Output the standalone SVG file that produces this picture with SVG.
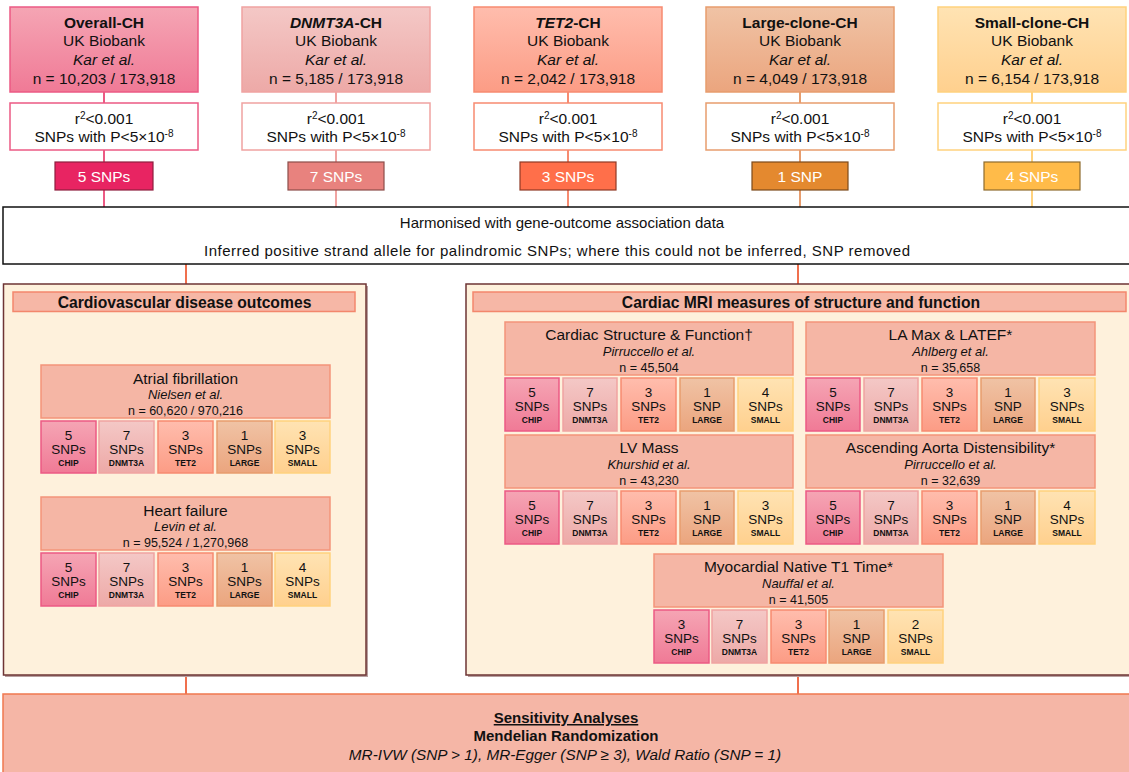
<svg xmlns="http://www.w3.org/2000/svg" width="1129" height="772" viewBox="0 0 1129 772">
<defs>
<linearGradient id="gChip" x1="0" y1="0" x2="0" y2="1"><stop offset="0" stop-color="#F5A5B4"/><stop offset="1" stop-color="#F07A96"/></linearGradient>
<linearGradient id="gDnmt" x1="0" y1="0" x2="0" y2="1"><stop offset="0" stop-color="#F4C8C6"/><stop offset="1" stop-color="#EDA9A7"/></linearGradient>
<linearGradient id="gTet" x1="0" y1="0" x2="0" y2="1"><stop offset="0" stop-color="#FFBDAD"/><stop offset="1" stop-color="#FC9C85"/></linearGradient>
<linearGradient id="gLarge" x1="0" y1="0" x2="0" y2="1"><stop offset="0" stop-color="#F0C3A5"/><stop offset="1" stop-color="#EBA57E"/></linearGradient>
<linearGradient id="gSmall" x1="0" y1="0" x2="0" y2="1"><stop offset="0" stop-color="#FFE3B3"/><stop offset="1" stop-color="#FFD08E"/></linearGradient>
</defs>
<style>
text{font-family:"Liberation Sans",Arial,sans-serif;fill:#111;text-anchor:middle}
.t15{font-size:15.5px}
.b{font-weight:bold}
.i{font-style:italic}
.chip{fill:url(#gChip);stroke:#EC5A84;stroke-width:1.5}
.dnmt{fill:url(#gDnmt);stroke:#F0A3A1;stroke-width:1.5}
.tet{fill:url(#gTet);stroke:#F78B70;stroke-width:1.5}
.large{fill:url(#gLarge);stroke:#E79D6E;stroke-width:1.5}
.small{fill:url(#gSmall);stroke:#FFD27E;stroke-width:1.5}
.wchip{fill:#fff;stroke:#EC5A84;stroke-width:1.5}
.wdnmt{fill:#fff;stroke:#F0A3A1;stroke-width:1.5}
.wtet{fill:#fff;stroke:#F78B70;stroke-width:1.5}
.wlarge{fill:#fff;stroke:#E79D6E;stroke-width:1.5}
.wsmall{fill:#fff;stroke:#FFD27E;stroke-width:1.5}
.nchip{fill:#E82462;stroke:#8E1F3F;stroke-width:1.2}
.ndnmt{fill:#E8827E;stroke:#8C4D4A;stroke-width:1.2}
.ntet{fill:#FF6F4A;stroke:#8F3A26;stroke-width:1.2}
.nlarge{fill:#E4892F;stroke:#7C4A1C;stroke-width:1.2}
.nsmall{fill:#FFBB49;stroke:#8E6B2E;stroke-width:1.2}
.snpt{fill:#fff;font-size:15.5px}
.panel{fill:#FEF1DC;stroke:#6E3434;stroke-width:1.5}
.shadow{fill:#B8A0A0}
.hdr{fill:#F6B7A6;stroke:#F3876C;stroke-width:1.5}
.hdt{font-size:15.7px;font-weight:bold}
.study{fill:#F5B6A5;stroke:#F3947A;stroke-width:1.5}
.st{font-size:15.5px}
.sa{font-size:13px;font-style:italic}
.sn{font-size:12.5px}
.num{font-size:13.5px}
.lab{font-size:8.5px;font-weight:bold}
.conn line{stroke-width:2}
</style>

<g id="connectors" class="conn">
<line x1="104" y1="92" x2="104" y2="207" stroke="#EC5A84"/>
<line x1="336" y1="92" x2="336" y2="207" stroke="#F0A3A1"/>
<line x1="568" y1="92" x2="568" y2="207" stroke="#F78B70"/>
<line x1="800" y1="92" x2="800" y2="207" stroke="#E79D6E"/>
<line x1="1032" y1="92" x2="1032" y2="207" stroke="#FFD27E"/>
<line x1="186" y1="264" x2="186" y2="284" stroke="#F0704E"/>
<line x1="798" y1="264" x2="798" y2="284" stroke="#F0704E"/>
<line x1="186" y1="675" x2="186" y2="694" stroke="#F0704E"/>
<line x1="798" y1="675" x2="798" y2="694" stroke="#F0704E"/>
</g>

<g id="src-overall">
<rect class="chip" x="10" y="7" width="188" height="85"/>
<text class="t15 b" x="104" y="27.5">Overall-CH</text>
<text class="t15" x="104" y="46">UK Biobank</text>
<text class="t15 i" x="104" y="65">Kar et al.</text>
<text class="t15" x="104" y="84">n = 10,203 / 173,918</text>
<rect class="wchip" x="10" y="103" width="188" height="47"/>
<text class="t15" x="104" y="123.5">r<tspan font-size="10" baseline-shift="super">2</tspan>&lt;0.001</text>
<text class="t15" x="104" y="141.5">SNPs with P&lt;5×10<tspan font-size="10" baseline-shift="super">-8</tspan></text>
<rect class="nchip" x="55" y="162" width="98" height="28"/>
<text class="snpt" x="104" y="182">5 SNPs</text>
</g>

<g id="src-dnmt3a">
<rect class="dnmt" x="242" y="7" width="188" height="85"/>
<text class="t15 b" x="336" y="27.5"><tspan class="i">DNMT3A</tspan>-CH</text>
<text class="t15" x="336" y="46">UK Biobank</text>
<text class="t15 i" x="336" y="65">Kar et al.</text>
<text class="t15" x="336" y="84">n = 5,185 / 173,918</text>
<rect class="wdnmt" x="242" y="103" width="188" height="47"/>
<text class="t15" x="336" y="123.5">r<tspan font-size="10" baseline-shift="super">2</tspan>&lt;0.001</text>
<text class="t15" x="336" y="141.5">SNPs with P&lt;5×10<tspan font-size="10" baseline-shift="super">-8</tspan></text>
<rect class="ndnmt" x="288" y="162" width="96" height="28"/>
<text class="snpt" x="336" y="182">7 SNPs</text>
</g>

<g id="src-tet2">
<rect class="tet" x="474" y="7" width="188" height="85"/>
<text class="t15 b" x="568" y="27.5"><tspan class="i">TET2</tspan>-CH</text>
<text class="t15" x="568" y="46">UK Biobank</text>
<text class="t15 i" x="568" y="65">Kar et al.</text>
<text class="t15" x="568" y="84">n = 2,042 / 173,918</text>
<rect class="wtet" x="474" y="103" width="188" height="47"/>
<text class="t15" x="568" y="123.5">r<tspan font-size="10" baseline-shift="super">2</tspan>&lt;0.001</text>
<text class="t15" x="568" y="141.5">SNPs with P&lt;5×10<tspan font-size="10" baseline-shift="super">-8</tspan></text>
<rect class="ntet" x="520" y="162" width="96" height="28"/>
<text class="snpt" x="568" y="182">3 SNPs</text>
</g>

<g id="src-large">
<rect class="large" x="706" y="7" width="188" height="85"/>
<text class="t15 b" x="800" y="27.5">Large-clone-CH</text>
<text class="t15" x="800" y="46">UK Biobank</text>
<text class="t15 i" x="800" y="65">Kar et al.</text>
<text class="t15" x="800" y="84">n = 4,049 / 173,918</text>
<rect class="wlarge" x="706" y="103" width="188" height="47"/>
<text class="t15" x="800" y="123.5">r<tspan font-size="10" baseline-shift="super">2</tspan>&lt;0.001</text>
<text class="t15" x="800" y="141.5">SNPs with P&lt;5×10<tspan font-size="10" baseline-shift="super">-8</tspan></text>
<rect class="nlarge" x="752" y="162" width="96" height="28"/>
<text class="snpt" x="800" y="182">1 SNP</text>
</g>

<g id="src-small">
<rect class="small" x="938" y="7" width="188" height="85"/>
<text class="t15 b" x="1032" y="27.5">Small-clone-CH</text>
<text class="t15" x="1032" y="46">UK Biobank</text>
<text class="t15 i" x="1032" y="65">Kar et al.</text>
<text class="t15" x="1032" y="84">n = 6,154 / 173,918</text>
<rect class="wsmall" x="938" y="103" width="188" height="47"/>
<text class="t15" x="1032" y="123.5">r<tspan font-size="10" baseline-shift="super">2</tspan>&lt;0.001</text>
<text class="t15" x="1032" y="141.5">SNPs with P&lt;5×10<tspan font-size="10" baseline-shift="super">-8</tspan></text>
<rect class="nsmall" x="984" y="162" width="96" height="28"/>
<text class="snpt" x="1032" y="182">4 SNPs</text>
</g>

<g id="harmonise">
<rect x="3" y="207" width="1135" height="57" fill="#fff" stroke="#111" stroke-width="1.5"/>
<text x="562" y="227.5" font-size="15px">Harmonised with gene-outcome association data</text>
<text x="557" y="255.5" font-size="15px" textLength="706" lengthAdjust="spacing">Inferred positive strand allele for palindromic SNPs; where this could not be inferred, SNP removed</text>
</g>

<g id="panel-cvd">
<rect class="shadow" x="5" y="286" width="363" height="391"/>
<rect class="panel" x="3.5" y="284" width="362.5" height="391"/>
<rect class="hdr" x="13" y="292" width="342" height="19.5"/>
<text class="hdt" x="184.5" y="307.5">Cardiovascular disease outcomes</text>
</g>

<g id="panel-mri">
<rect class="shadow" x="468" y="286" width="680" height="391"/>
<rect class="panel" x="466" y="284" width="680" height="391"/>
<rect class="hdr" x="473" y="292" width="653" height="19.5"/>
<text class="hdt" x="801" y="307.5">Cardiac MRI measures of structure and function</text>
</g>

<g id="af">
<rect class="study" x="41" y="365" width="289" height="53"/>
<text class="st" x="185.5" y="383.5">Atrial fibrillation</text>
<text class="sa" x="185.5" y="399">Nielsen et al.</text>
<text class="sn" x="185.5" y="414.5">n = 60,620 / 970,216</text>
<rect class="chip" x="41" y="421" width="55" height="52"/><text class="num" x="68.5" y="440">5</text><text class="num" x="68.5" y="454">SNPs</text><text class="lab" x="68.5" y="465.5">CHIP</text>
<rect class="dnmt" x="99" y="421" width="55" height="52"/><text class="num" x="126.5" y="440">7</text><text class="num" x="126.5" y="454">SNPs</text><text class="lab" x="126.5" y="465.5">DNMT3A</text>
<rect class="tet" x="158" y="421" width="55" height="52"/><text class="num" x="185.5" y="440">3</text><text class="num" x="185.5" y="454">SNPs</text><text class="lab" x="185.5" y="465.5">TET2</text>
<rect class="large" x="217" y="421" width="55" height="52"/><text class="num" x="244.5" y="440">1</text><text class="num" x="244.5" y="454">SNPs</text><text class="lab" x="244.5" y="465.5">LARGE</text>
<rect class="small" x="275" y="421" width="55" height="52"/><text class="num" x="302.5" y="440">3</text><text class="num" x="302.5" y="454">SNPs</text><text class="lab" x="302.5" y="465.5">SMALL</text>
</g>

<g id="hf">
<rect class="study" x="41" y="497" width="289" height="53"/>
<text class="st" x="185.5" y="515.5">Heart failure</text>
<text class="sa" x="185.5" y="531">Levin et al.</text>
<text class="sn" x="185.5" y="546.5">n = 95,524 / 1,270,968</text>
<rect class="chip" x="41" y="553" width="55" height="53"/><text class="num" x="68.5" y="572">5</text><text class="num" x="68.5" y="586">SNPs</text><text class="lab" x="68.5" y="597.5">CHIP</text>
<rect class="dnmt" x="99" y="553" width="55" height="53"/><text class="num" x="126.5" y="572">7</text><text class="num" x="126.5" y="586">SNPs</text><text class="lab" x="126.5" y="597.5">DNMT3A</text>
<rect class="tet" x="158" y="553" width="55" height="53"/><text class="num" x="185.5" y="572">3</text><text class="num" x="185.5" y="586">SNPs</text><text class="lab" x="185.5" y="597.5">TET2</text>
<rect class="large" x="217" y="553" width="55" height="53"/><text class="num" x="244.5" y="572">1</text><text class="num" x="244.5" y="586">SNPs</text><text class="lab" x="244.5" y="597.5">LARGE</text>
<rect class="small" x="275" y="553" width="55" height="53"/><text class="num" x="302.5" y="572">4</text><text class="num" x="302.5" y="586">SNPs</text><text class="lab" x="302.5" y="597.5">SMALL</text>
</g>

<g id="csf">
<rect class="study" x="505" y="322" width="288" height="53"/>
<text class="st" x="649" y="340">Cardiac Structure &amp; Function†</text>
<text class="sa" x="649" y="356">Pirruccello et al.</text>
<text class="sn" x="649" y="371.5">n = 45,504</text>
<rect class="chip" x="505" y="378" width="54" height="53"/><text class="num" x="532" y="397">5</text><text class="num" x="532" y="411">SNPs</text><text class="lab" x="532" y="422.5">CHIP</text>
<rect class="dnmt" x="563" y="378" width="54" height="53"/><text class="num" x="590" y="397">7</text><text class="num" x="590" y="411">SNPs</text><text class="lab" x="590" y="422.5">DNMT3A</text>
<rect class="tet" x="621" y="378" width="55" height="53"/><text class="num" x="648.5" y="397">3</text><text class="num" x="648.5" y="411">SNPs</text><text class="lab" x="648.5" y="422.5">TET2</text>
<rect class="large" x="680" y="378" width="54" height="53"/><text class="num" x="707" y="397">1</text><text class="num" x="707" y="411">SNP</text><text class="lab" x="707" y="422.5">LARGE</text>
<rect class="small" x="738" y="378" width="55" height="53"/><text class="num" x="765.5" y="397">4</text><text class="num" x="765.5" y="411">SNPs</text><text class="lab" x="765.5" y="422.5">SMALL</text>
</g>

<g id="la">
<rect class="study" x="806" y="322" width="289" height="53"/>
<text class="st" x="950.5" y="340">LA Max &amp; LATEF*</text>
<text class="sa" x="950.5" y="356">Ahlberg et al.</text>
<text class="sn" x="950.5" y="371.5">n = 35,658</text>
<rect class="chip" x="806" y="378" width="54" height="53"/><text class="num" x="833" y="397">5</text><text class="num" x="833" y="411">SNPs</text><text class="lab" x="833" y="422.5">CHIP</text>
<rect class="dnmt" x="864" y="378" width="54" height="53"/><text class="num" x="891" y="397">7</text><text class="num" x="891" y="411">SNPs</text><text class="lab" x="891" y="422.5">DNMT3A</text>
<rect class="tet" x="922" y="378" width="55" height="53"/><text class="num" x="949.5" y="397">3</text><text class="num" x="949.5" y="411">SNPs</text><text class="lab" x="949.5" y="422.5">TET2</text>
<rect class="large" x="981" y="378" width="54" height="53"/><text class="num" x="1008" y="397">1</text><text class="num" x="1008" y="411">SNP</text><text class="lab" x="1008" y="422.5">LARGE</text>
<rect class="small" x="1039" y="378" width="56" height="53"/><text class="num" x="1067" y="397">3</text><text class="num" x="1067" y="411">SNPs</text><text class="lab" x="1067" y="422.5">SMALL</text>
</g>

<g id="lvm">
<rect class="study" x="505" y="435" width="288" height="53"/>
<text class="st" x="649" y="453">LV Mass</text>
<text class="sa" x="649" y="469">Khurshid et al.</text>
<text class="sn" x="649" y="484.5">n = 43,230</text>
<rect class="chip" x="505" y="491" width="54" height="53"/><text class="num" x="532" y="510">5</text><text class="num" x="532" y="524">SNPs</text><text class="lab" x="532" y="535.5">CHIP</text>
<rect class="dnmt" x="563" y="491" width="54" height="53"/><text class="num" x="590" y="510">7</text><text class="num" x="590" y="524">SNPs</text><text class="lab" x="590" y="535.5">DNMT3A</text>
<rect class="tet" x="621" y="491" width="55" height="53"/><text class="num" x="648.5" y="510">3</text><text class="num" x="648.5" y="524">SNPs</text><text class="lab" x="648.5" y="535.5">TET2</text>
<rect class="large" x="680" y="491" width="54" height="53"/><text class="num" x="707" y="510">1</text><text class="num" x="707" y="524">SNP</text><text class="lab" x="707" y="535.5">LARGE</text>
<rect class="small" x="738" y="491" width="55" height="53"/><text class="num" x="765.5" y="510">3</text><text class="num" x="765.5" y="524">SNPs</text><text class="lab" x="765.5" y="535.5">SMALL</text>
</g>

<g id="aad">
<rect class="study" x="806" y="435" width="289" height="53"/>
<text class="st" x="950.5" y="453">Ascending Aorta Distensibility*</text>
<text class="sa" x="950.5" y="469">Pirruccello et al.</text>
<text class="sn" x="950.5" y="484.5">n = 32,639</text>
<rect class="chip" x="806" y="491" width="54" height="53"/><text class="num" x="833" y="510">5</text><text class="num" x="833" y="524">SNPs</text><text class="lab" x="833" y="535.5">CHIP</text>
<rect class="dnmt" x="864" y="491" width="54" height="53"/><text class="num" x="891" y="510">7</text><text class="num" x="891" y="524">SNPs</text><text class="lab" x="891" y="535.5">DNMT3A</text>
<rect class="tet" x="922" y="491" width="55" height="53"/><text class="num" x="949.5" y="510">3</text><text class="num" x="949.5" y="524">SNPs</text><text class="lab" x="949.5" y="535.5">TET2</text>
<rect class="large" x="981" y="491" width="54" height="53"/><text class="num" x="1008" y="510">1</text><text class="num" x="1008" y="524">SNP</text><text class="lab" x="1008" y="535.5">LARGE</text>
<rect class="small" x="1039" y="491" width="56" height="53"/><text class="num" x="1067" y="510">4</text><text class="num" x="1067" y="524">SNPs</text><text class="lab" x="1067" y="535.5">SMALL</text>
</g>

<g id="t1">
<rect class="study" x="654" y="554" width="289" height="53"/>
<text class="st" x="798.5" y="572">Myocardial Native T1 Time*</text>
<text class="sa" x="798.5" y="588">Nauffal et al.</text>
<text class="sn" x="798.5" y="603.5">n = 41,505</text>
<rect class="chip" x="654" y="610" width="55" height="53"/><text class="num" x="681.5" y="629">3</text><text class="num" x="681.5" y="643">SNPs</text><text class="lab" x="681.5" y="654.5">CHIP</text>
<rect class="dnmt" x="712" y="610" width="55" height="53"/><text class="num" x="739.5" y="629">7</text><text class="num" x="739.5" y="643">SNPs</text><text class="lab" x="739.5" y="654.5">DNMT3A</text>
<rect class="tet" x="771" y="610" width="55" height="53"/><text class="num" x="798.5" y="629">3</text><text class="num" x="798.5" y="643">SNPs</text><text class="lab" x="798.5" y="654.5">TET2</text>
<rect class="large" x="829" y="610" width="55" height="53"/><text class="num" x="856.5" y="629">1</text><text class="num" x="856.5" y="643">SNP</text><text class="lab" x="856.5" y="654.5">LARGE</text>
<rect class="small" x="888" y="610" width="55" height="53"/><text class="num" x="915.5" y="629">2</text><text class="num" x="915.5" y="643">SNPs</text><text class="lab" x="915.5" y="654.5">SMALL</text>
</g>

<g id="sensitivity">
<rect x="3" y="694" width="1135" height="85" fill="#F5B6A6" stroke="#F0784F" stroke-width="1.5"/>
<text class="b" x="566" y="723" font-size="15px" text-decoration="underline">Sensitivity Analyses</text>
<text class="b" x="566" y="741" font-size="15px">Mendelian Randomization</text>
<text class="i" x="565" y="760" font-size="15.3px">MR-IVW (SNP &gt; 1), MR-Egger (SNP ≥ 3), Wald Ratio (SNP = 1)</text>
</g>
</svg>
